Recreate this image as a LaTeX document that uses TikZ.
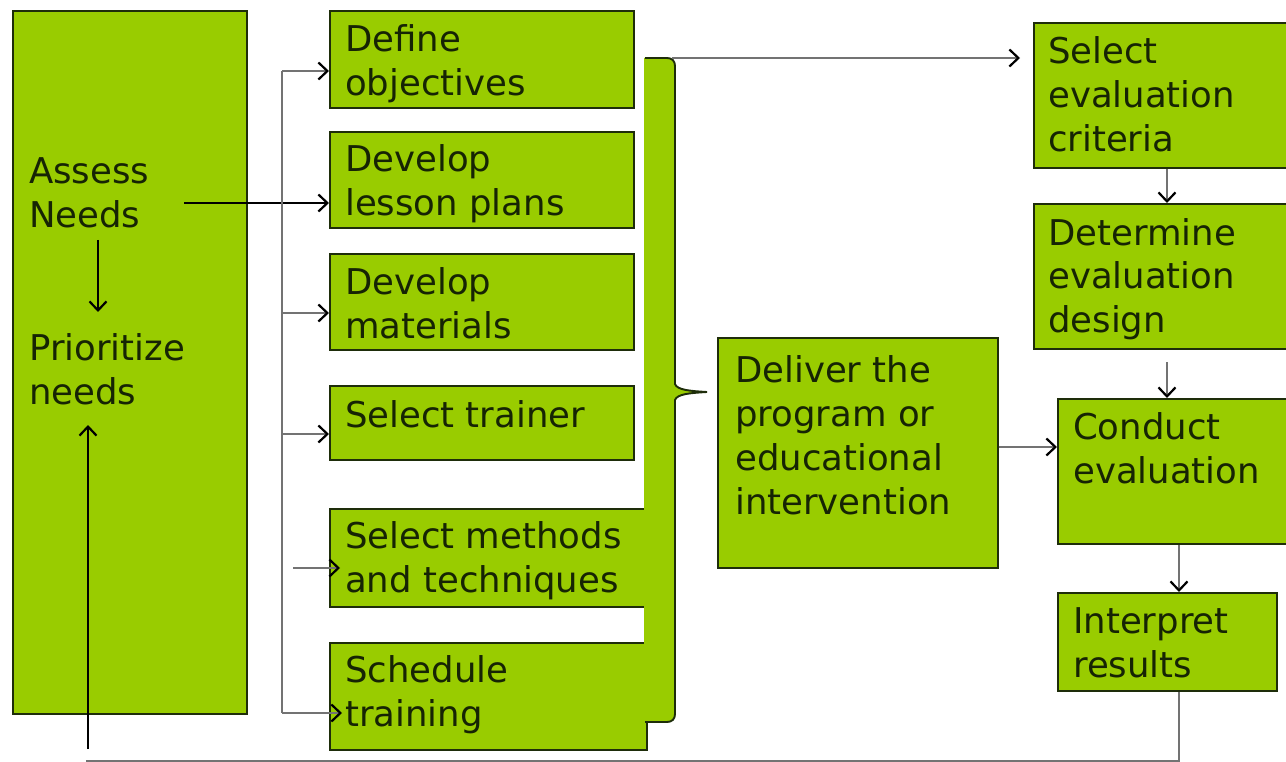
\documentclass[tikz,border=0pt]{standalone}
\usepackage{fontspec}
\setmainfont{DejaVu Sans}
\usetikzlibrary{arrows.meta,calc}

\definecolor{boxgreen}{RGB}{153,204,0}
\definecolor{boxline}{RGB}{30,45,10}
\definecolor{ink}{RGB}{22,36,4}
\definecolor{wire}{RGB}{115,115,115}

% captions are placed by the baseline of their last line
\tikzset{
  stage/.style={draw=boxline, fill=boxgreen, line width=1.9pt, inner sep=0pt, anchor=north west},
  caption/.style={text=ink, font=\fontsize{35.5}{44}\selectfont, align=left, anchor=base west, inner sep=0pt},
  wire/.style={draw=wire, line width=1.9pt},
  flow/.style={wire, -{Straight Barb[length=9pt,width=17pt,line width=2.2pt,color=black]}},
  thinflow/.style={draw=black, line width=1.4pt, -{Straight Barb[length=9pt,width=17pt,line width=2.2pt]}}
}

\begin{document}
\begin{tikzpicture}[x=1pt,y=-1pt]
\useasboundingbox[fill=white] (0,0) rectangle (1286,762);

% needs analysis column
\node[stage, minimum width=234pt, minimum height=703pt] (needs) at (12,10) {};
\node[caption] (assess) at (29,228) {Assess\\Needs};
\node[caption] (prio) at (29,404) {Prioritize\\needs};

% design steps
\node[stage, minimum width=304pt, minimum height=97pt] (obj) at (329,10) {};
\node[stage, minimum width=304pt, minimum height=96pt] (lesson) at (329,131) {};
\node[stage, minimum width=304pt, minimum height=96pt] (mat) at (329,253) {};
\node[stage, minimum width=304pt, minimum height=74pt] (trainer) at (329,385) {};
\node[stage, minimum width=317pt, minimum height=98pt] (meth) at (329,508) {};
\node[stage, minimum width=317pt, minimum height=107pt] (sched) at (329,642) {};

\node[caption] at (345,96) {Define\\objectives};
\node[caption] at (345,216) {Develop\\lesson plans};
\node[caption] at (345,338) {Develop\\materials};
\node[caption] at (345,427) {Select trainer};
\node[caption] at (345,592) {Select methods\\and techniques};
\node[caption] at (345,726) {Schedule\\training};

% brace gathering the design steps
\fill[boxgreen] (644,58) -- (667,58) .. controls (672,58) and (675,61) .. (675,66)
  -- (675,384) .. controls (677,390) and (690,391) .. (707,392)
  .. controls (690,393) and (677,394) .. (675,400)
  -- (675,714) .. controls (675,719) and (672,722) .. (667,722) -- (644,722) -- cycle;
\draw[draw=boxline, line width=1.9pt] (645,58) -- (667,58) .. controls (672,58) and (675,61) .. (675,66)
  -- (675,384) .. controls (677,390) and (690,391) .. (707,392)
  .. controls (690,393) and (677,394) .. (675,400)
  -- (675,714) .. controls (675,719) and (672,722) .. (667,722) -- (645,722);
\coordinate (bracetop) at (672,58);

% delivery
\node[stage, minimum width=280pt, minimum height=230pt] (deliver) at (717,337) {};
\node[caption] at (735,514) {Deliver the\\program or\\educational\\intervention};

% evaluation column
\node[stage, minimum width=260pt, minimum height=145pt] (crit) at (1033,22) {};
\node[stage, minimum width=260pt, minimum height=145pt] (design) at (1033,203) {};
\node[stage, minimum width=236pt, minimum height=145pt] (conduct) at (1057,398) {};
\node[stage, minimum width=219pt, minimum height=98pt] (interp) at (1057,592) {};

\node[caption] at (1048,152) {Select\\evaluation\\criteria};
\node[caption] at (1048,333) {Determine\\evaluation\\design};
\node[caption] at (1073,483) {Conduct\\evaluation};
\node[caption] at (1073,677) {Interpret\\results};

% connectors of the needs column
\coordinate (assessout) at (184,203);
\draw[thinflow] (assessout) -- (lesson.west |- assessout);
\coordinate (downstart) at (98,240);
\draw[thinflow] (downstart) -- (98,312);

% trunk feeding the design steps
\coordinate (trunktop) at (282,71);
\coordinate (trunkbot) at (282,713);
\draw[wire] (trunktop) -- (trunkbot);
\draw[flow] (trunktop) -- (obj.west |- trunktop);
\draw[flow] (282,313) -- (mat.west |- 0,313);
\draw[flow] (282,434) -- (trainer.west |- 0,434);
\coordinate (methin) at (293,568);
\draw[flow] (methin) -- ([xshift=11pt]meth.west |- methin);
\draw[flow] (trunkbot) -- ([xshift=13pt]sched.west |- trunkbot);

% towards evaluation
\draw[flow, shorten >=13pt] (bracetop) -- (crit.west |- bracetop);
\draw[flow] (deliver.east |- 0,447) -- (conduct.west |- 0,447);
\draw[flow] (crit.south -| 1167,0) -- (design.north -| 1167,0);
\coordinate (designout) at (1167,362);
\draw[flow] (designout) -- (conduct.north -| designout);
\draw[flow] (conduct.south -| 1179,0) -- (interp.north -| 1179,0);

% feedback loop back to the needs
\coordinate (fbcorner) at (86,761);
\draw[wire] (interp.south -| 1179,0) |- (fbcorner);
\coordinate (fbup) at (88,749);
\coordinate (fbtip) at (88,425);
\draw[flow, draw=black, line width=1.4pt] (fbup) -- (fbtip);
\end{tikzpicture}
\end{document}
